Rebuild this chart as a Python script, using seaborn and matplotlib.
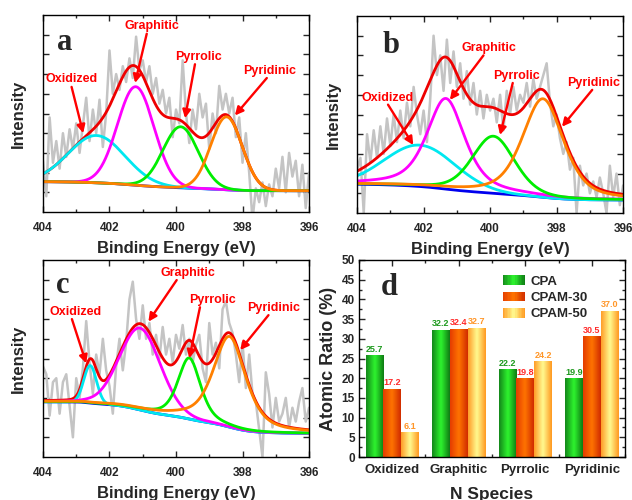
import numpy as np
import pandas as pd
import matplotlib
matplotlib.use("Agg")
import matplotlib.pyplot as plt
from matplotlib.colors import LinearSegmentedColormap
from matplotlib.legend_handler import HandlerBase
from matplotlib.patches import Rectangle, Patch
from matplotlib.ticker import MultipleLocator
import seaborn as sns

sns.set_style("ticks")
plt.rcParams["font.family"] = ["Liberation Sans", "DejaVu Sans"]
plt.rcParams["font.weight"] = "bold"
plt.rcParams["axes.labelweight"] = "bold"

# ---------------- data ----------------
# raw N1s spectra, 404 -> 396 eV in 0.1 eV steps
energy = np.round(np.arange(404.0, 395.95, -0.1), 1)

raw_a = [26, 8, 48, 25, 36, 22, 40, 28, 42, 32,
         45, 30, 44, 58, 36, 52, 40, 57, 33, 50,
         82, 60, 70, 62, 74, 66, 78, 68, 89, 72,
         77, 66, 74, 60, 68, 55, 62, 50, 58, 38,
         52, 45, 77, 50, 35, 52, 42, 60, 48, 55,
         32, 50, 40, 64, 52, 60, 50, 58, 38, 48,
         25, 40, 20, -4, 12, 5, 15, 3, 14, 8,
         22, 12, 28, 10, 30, 18, 26, 8, 24, 2, 20]

raw_b = [22, 28, 0, 40, 26, 42, 28, 44, 30, 48,
         34, 50, 36, 52, 38, 56, 44, 64, 50, 40,
         52, 36, 58, 90, 70, 80, 62, 88, 66, 82,
         64, 76, 58, 72, 55, 66, 50, 62, 48, 60,
         52, 58, 46, 60, 42, 62, 50, 64, 52, 60,
         56, 66, 54, 68, 58, 64, 70, 76, 56, 44,
         50, 38, 30, 36, 22, 28, 0, 24, 14, 20,
         10, 16, 8, 18, 10, 0, 24, 8, 20, 4, 14]

raw_c = [46, 42, 21, 38, 40, 22, 38, 42, 26, 10,
         40, 30, 45, 69, 48, 32, 52, 42, 60, 44,
         36, 22, 46, 60, 44, 58, 80, 89, 70, 60,
         77, 60, 68, 52, 62, 50, 66, 52, 60, 48,
         62, 55, 67, 52, 60, 48, 57, 62, 45, 38,
         68, 52, 58, 45, 75, 79, 68, 63, 52, 38,
         58, 35, 52, 32, 28, 14, 0, 43, 32, 15,
         30, 18, 22, 30, 15, 25, 18, 28, 35, 18, 25]

species = ["Oxidized", "Graphitic", "Pyrrolic", "Pyridinic"]

# fitted components: centre (eV), height, FWHM (eV), Lorentzian fraction
center_a = [402.39, 401.21, 399.86, 398.48]
height_a = [24, 50, 31, 37]
fwhm_a = [2.0, 1.29, 1.25, 1.11]
lor_a = [0.0, 0.0, 0.0, 0.0]
bg_a = [15.4, 10.8]   # background level at 404 / 396 eV

center_b = [402.11, 401.33, 399.90, 398.41]
height_b = [21, 46, 29, 50]
fwhm_b = [2.5, 1.35, 1.5, 1.46]
lor_b = [0.0, 0.6, 0.3, 0.5]
bg_b = [14.6, 6.6]

center_c = [402.58, 401.08, 399.60, 398.39]
height_c = [19, 41.5, 31, 46]
fwhm_c = [0.45, 1.45, 0.8, 1.16]
lor_c = [0.0, 0.1, 0.5, 0.6]
bg_c = [28.0, 12.0]

# atomic ratio (%) of N species
samples = ["CPA", "CPAM-30", "CPAM-50"]
ratio_cpa = [25.7, 32.2, 22.2, 19.9]
ratio_cpam30 = [17.2, 32.4, 19.8, 30.5]
ratio_cpam50 = [6.1, 32.7, 24.2, 37.0]

comp_colors = ["#00e8f0", "#ff00ff", "#00ee00", "#ff8000"]


def pseudo_voigt(e, center, height, fwhm, lor):
    dx = (e - center) / fwhm
    gauss = np.exp(-4 * np.log(2) * dx ** 2)
    lorentz = 1 / (1 + 4 * dx ** 2)
    return height * ((1 - lor) * gauss + lor * lorentz)


def draw_spectrum(ax, raw, centers, heights, fwhms, lors, bg, letter, notes):
    sns.lineplot(x=energy, y=raw, color="#c4c4c4", lw=1.8, ax=ax)

    e_fit = np.linspace(404, 396, 801)
    comps = [pseudo_voigt(e_fit, c, h, w, l)
             for c, h, w, l in zip(centers, heights, fwhms, lors)]
    total = np.sum(comps, axis=0)
    # Shirley type background
    cum = np.cumsum(total[::-1])[::-1]
    base = bg[1] + (bg[0] - bg[1]) * cum / cum[0]

    sns.lineplot(x=e_fit, y=base + total, color="#ee0000", lw=2.0, ax=ax)
    sns.lineplot(x=e_fit, y=base, color="#0000ee", lw=2.0, ax=ax)
    for comp, col in zip(comps, comp_colors):
        sns.lineplot(x=e_fit, y=base + comp, color=col, lw=2.0, ax=ax)

    for name, (tx, ty), start, tip in notes:
        ax.text(tx, ty, name, color="#ff0000", fontsize=9, weight="bold",
                ha="center", va="center")
        ax.annotate("", xy=tip, xytext=start,
                    arrowprops=dict(arrowstyle="-|>", color="#ff0000", lw=1.7,
                                    mutation_scale=12, shrinkA=0, shrinkB=0))

    ax.set_xlim(404, 396)
    ax.set_ylim(0, 100)
    ax.xaxis.set_major_locator(MultipleLocator(2))
    ax.xaxis.set_minor_locator(MultipleLocator(1))
    ax.set_yticks(np.arange(10, 100, 10))
    ax.tick_params(which="both", direction="in", top=True, right=True,
                   labelleft=False, labelsize=8.5, pad=7, width=1)
    ax.tick_params(which="major", length=4)
    ax.tick_params(which="minor", length=2.5)
    ax.set_xlabel("Binding Energy (eV)", fontsize=12, labelpad=5)
    ax.set_ylabel("Intensity", fontsize=12, labelpad=12)
    for sp in ax.spines.values():
        sp.set_linewidth(1.0)
        sp.set_color("black")
    ax.text(*letter[1], letter[0], transform=ax.transAxes, fontsize=22,
            weight="bold", family="Liberation Serif", va="baseline")


fig = plt.figure(figsize=(6.32, 5.0), dpi=100)
ax_a = fig.add_axes([0.068, 0.576, 0.421, 0.394])
ax_b = fig.add_axes([0.565, 0.574, 0.421, 0.394])
ax_c = fig.add_axes([0.068, 0.086, 0.421, 0.394])
ax_d = fig.add_axes([0.568, 0.086, 0.421, 0.394])

notes_a = [("Oxidized", (403.14, 67.5), (403.14, 63.5), (402.79, 40)),
           ("Graphitic", (400.73, 94.4), (400.88, 90.5), (401.23, 65.5)),
           ("Pyrrolic", (399.31, 78.8), (399.43, 75), (399.73, 47.6)),
           ("Pyridinic", (397.19, 71.7), (397.27, 68), (398.23, 49))]
notes_b = [("Oxidized", (403.07, 58.5), (403.07, 55), (402.31, 34.5)),
           ("Graphitic", (400.05, 83.6), (400.2, 80), (401.21, 57.4)),
           ("Pyrrolic", (399.22, 69.5), (399.32, 66), (399.70, 39.6)),
           ("Pyridinic", (396.9, 66.2), (396.93, 62.5), (397.84, 43.8))]
notes_c = [("Oxidized", (403.03, 73.4), (403.13, 70), (402.7, 47.5)),
           ("Graphitic", (399.63, 93.2), (399.98, 89.8), (400.83, 68.7)),
           ("Pyrrolic", (398.9, 79.7), (399.28, 76), (399.6, 50.1)),
           ("Pyridinic", (397.07, 75.5), (397.22, 72), (398.07, 54.3))]

draw_spectrum(ax_a, raw_a, center_a, height_a, fwhm_a, lor_a, bg_a,
              ("a", (0.052, 0.82)), notes_a)
draw_spectrum(ax_b, raw_b, center_b, height_b, fwhm_b, lor_b, bg_b,
              ("b", (0.095, 0.81)), notes_b)
draw_spectrum(ax_c, raw_c, center_c, height_c, fwhm_c, lor_c, bg_c,
              ("c", (0.048, 0.83)), notes_c)

# ---------------- panel d ----------------
df = pd.DataFrame({
    "species": species * 3,
    "sample": np.repeat(samples, len(species)),
    "ratio": ratio_cpa + ratio_cpam30 + ratio_cpam50,
})
shades = {"CPA": ["#14861a", "#2ef52e", "#0f7a14"],
          "CPAM-30": ["#e43c00", "#ff7400", "#d02c00"],
          "CPAM-50": ["#ff9c28", "#fffb90", "#ff9820"]}
value_colors = {"CPA": "#1e9a1e", "CPAM-30": "#ff2a2a", "CPAM-50": "#ff9628"}

sns.barplot(data=df, x="species", y="ratio", hue="sample", hue_order=samples,
            order=species, palette=[shades[s][1] for s in samples],
            width=0.8, legend=False, ax=ax_d)

grad = np.linspace(0, 1, 64)[None, :]
for cont, name in zip(ax_d.containers, samples):
    cmap = LinearSegmentedColormap.from_list(name, shades[name])
    for rect in cont:
        x0, w, h = rect.get_x(), rect.get_width(), rect.get_height()
        ax_d.imshow(grad, cmap=cmap, extent=[x0, x0 + w, 0, h], aspect="auto",
                    interpolation="bicubic", zorder=2.5)
        rect.set_facecolor("none")
        ax_d.text(x0 + w / 2, h + 0.5, f"{h:.1f}", ha="center", va="bottom",
                  fontsize=6.5, weight="bold", color=value_colors[name])


class GradientHandler(HandlerBase):
    def create_artists(self, legend, orig_handle, xdescent, ydescent,
                       width, height, fontsize, trans):
        cmap = LinearSegmentedColormap.from_list("h", shades[orig_handle.get_label()])
        n = 16
        arts = []
        for i in range(n):
            arts.append(Rectangle((-xdescent + i * width / n, -ydescent),
                                  width / n + 0.3, height,
                                  facecolor=cmap((i + 0.5) / n),
                                  edgecolor="none", transform=trans))
        return arts


handles = [Patch(label=s) for s in samples]
ax_d.legend(handles=handles, labels=samples, loc="upper left",
            bbox_to_anchor=(0.52, 0.95), frameon=False, fontsize=9.5,
            handlelength=1.7, handleheight=0.75, labelspacing=0.3,
            handletextpad=0.4, borderaxespad=0,
            handler_map={Patch: GradientHandler()})

ax_d.set_xlim(-0.5, 3.5)
ax_d.set_ylim(0, 50)
ax_d.yaxis.set_major_locator(MultipleLocator(5))
ax_d.yaxis.set_minor_locator(MultipleLocator(2.5))
ax_d.set_xticks(range(4))
ax_d.set_xticks([-0.5, 0.5, 1.5, 2.5, 3.5], minor=True)
ax_d.set_xticklabels(species, fontsize=9.5)
ax_d.tick_params(which="both", direction="in", top=True, right=True,
                 labelsize=8.5, pad=3, width=1)
ax_d.tick_params(axis="x", labelsize=9.5, pad=5)
ax_d.tick_params(which="major", length=4)
ax_d.tick_params(which="minor", length=2.5)
ax_d.set_xlabel("N Species", fontsize=12.5, labelpad=8)
ax_d.set_ylabel("Atomic Ratio (%)", fontsize=13, labelpad=3)
for sp in ax_d.spines.values():
    sp.set_linewidth(1.0)
    sp.set_color("black")
ax_d.text(0.08, 0.82, "d", transform=ax_d.transAxes, fontsize=22,
          weight="bold", family="Liberation Serif", va="baseline")

fig.savefig("out.png", dpi=100)
